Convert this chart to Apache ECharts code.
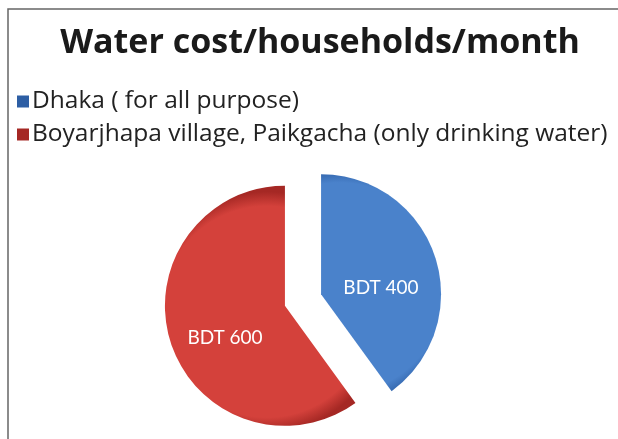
<!DOCTYPE html>
<html>
<head>
<meta charset="utf-8">
<script src="https://cdn.jsdelivr.net/npm/echarts@6/dist/echarts.min.js"></script>
<style>
  html, body { margin: 0; padding: 0; background: #fff; }
  #chart { width: 618px; height: 439px; }
</style>
</head>
<body>
<div id="chart"></div>
<script>
var categories = ['Dhaka ( for all purpose)', 'Boyarjhapa village, Paikgacha (only drinking water)'];
var costs = [400, 600];
var labels = ['BDT 400', 'BDT 600'];

var colors = [
  { c: '#4a82cb', e: '#2d5ea4' },
  { c: '#d4413b', e: '#a52824' }
];

// pie geometry
var cx = 303, cy = 300, R = 120, off = 19;

// gradient centred on each exploded slice's own circle
function grad(i) {
  var total = costs[0] + costs[1];
  var before = 0;
  for (var k = 0; k < i; k++) before += costs[k];
  var mid = (before + costs[i] / 2) / total * 2 * Math.PI;
  var gx = cx + off * Math.sin(mid), gy = cy - off * Math.cos(mid);
  return {
    type: 'radial', x: gx, y: gy, r: R, global: true,
    colorStops: [
      { offset: 0, color: colors[i].c },
      { offset: 0.88, color: colors[i].c },
      { offset: 1, color: colors[i].e }
    ]
  };
}

var chart = echarts.init(document.getElementById('chart'));

var option = {
  animation: false,
  title: {
    text: 'Water cost/households/month',
    left: 315,
    top: 21,
    textAlign: 'center',
    textStyle: { fontFamily: 'Open Sans', fontWeight: 'bold', fontSize: 34, color: '#1a1a1a' }
  },
  legend: {
    orient: 'vertical',
    left: 12,
    top: 84,
    itemWidth: 12,
    itemHeight: 12,
    itemGap: 8,
    icon: 'rect',
    selectedMode: false,
    textStyle: { fontFamily: 'Open Sans', fontSize: 24.5, color: '#222', padding: [0, 0, 0, -2] },
    data: categories
  },
  graphic: [{
    type: 'rect',
    shape: { x: 8, y: 9, width: 700, height: 500 },
    style: { fill: 'none', stroke: '#666', lineWidth: 1.5 },
    silent: true
  }],
  series: [{
    type: 'pie',
    center: [cx, cy],
    radius: R,
    startAngle: 90,
    clockwise: true,
    selectedMode: 'multiple',
    selectedOffset: off,
    emphasis: { disabled: true },
    label: {
      position: 'inside',
      formatter: function (p) { return '\n' + labels[p.dataIndex]; },
      color: '#fff',
      fontFamily: 'Lato',
      fontSize: 19,
      lineHeight: 26
    },
    labelLine: { show: false },
    data: categories.map(function (name, i) {
      return {
        name: name,
        value: costs[i],
        selected: true,
        itemStyle: { color: grad(i) }
      };
    })
  }],
  color: ['#4a82cb', '#d4413b']
};

chart.setOption(option);
</script>
</body>
</html>
